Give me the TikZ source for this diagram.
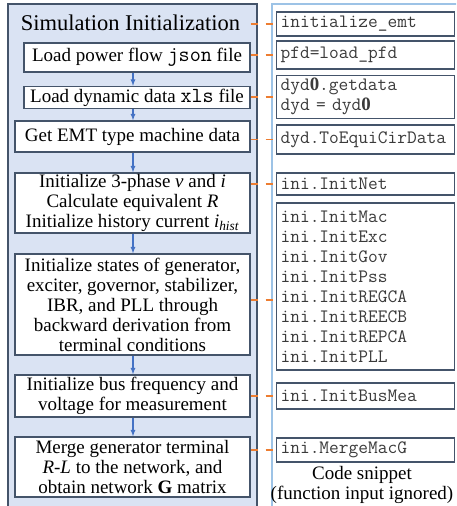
\documentclass[tikz,border=0pt]{standalone}
\usepackage{fontspec}
\setmainfont{Liberation Serif}
\usetikzlibrary{arrows,calc}

\definecolor{panelfill}{HTML}{DAE3F3}
\definecolor{panelline}{HTML}{9DC3E6}
\definecolor{boxline}{HTML}{44546A}
\definecolor{flowblue}{HTML}{4472C4}
\definecolor{linkorange}{HTML}{ED7D31}
\definecolor{codegray}{HTML}{3A3A3A}

% file formats named inside the step boxes
\newcommand{\fmt}[1]{{\ttfamily\fontsize{21.5}{20}\selectfont #1}}

\begin{document}
\begin{tikzpicture}[x=1pt,y=-1pt,>=latex,
	stepbox/.style={draw=boxline,fill=white,line width=1.3pt,align=center,
		inner sep=0pt,font=\fontsize{19}{20}\selectfont},
	codebox/.style={draw=boxline,fill=white,line width=1.1pt,anchor=west,
		align=left,text width=170pt,inner xsep=4pt,inner ysep=0pt,text=codegray,
		font=\ttfamily\fontsize{18.9}{20}\selectfont},
	flow/.style={->,flowblue,line width=1.2pt},
	link/.style={linkorange,line width=1.6pt,dash pattern=on 7pt off 8pt}]

\useasboundingbox (0,0) rectangle (456,506);
\clip (0,0) rectangle (456,506);

% the two panels
\draw[boxline,fill=panelfill,line width=1.3pt] (8,4) rectangle (257,520);
\draw[panelline,line width=2.6pt] (272,530) -- (272,4) -- (470,4);

% initialization steps
\node[font=\fontsize{22.5}{24}\selectfont,minimum width=239pt,inner sep=0pt]
	(title) at (130.5,23) {Simulation Initialization};

\node[stepbox,minimum width=226pt,minimum height=29pt] (pf) at (137,57.5)
	{Load power flow \fmt{json} file};
\node[stepbox,minimum width=226pt,minimum height=22pt] (dyn) at (137,97.5)
	{Load dynamic data \fmt{xls} file};
\node[stepbox,minimum width=235pt,minimum height=31pt] (emt) at (132.5,136.5)
	{Get EMT type machine data};
\node[stepbox,minimum width=235pt,minimum height=60pt] (net) at (132.5,203)
	{Initialize 3-phase \textit{v} and \textit{i}\\
	Calculate equivalent \textit{R}\\
	Initialize history current \textit{i}\textsubscript{\textit{hist}}};
\node[stepbox,minimum width=235pt,minimum height=101pt] (states) at (132.5,304.5)
	{Initialize states of generator,\\
	exciter, governor, stabilizer,\\
	IBR, and PLL through\\
	backward derivation from\\
	terminal conditions};
\node[stepbox,minimum width=235pt,minimum height=42pt] (bus) at (132.5,396)
	{Initialize bus frequency and\\
	voltage for measurement};
\node[stepbox,minimum width=235pt,minimum height=60pt] (merge) at (132.5,467)
	{Merge generator terminal\\
	\textit{R}-\textit{L} to the network, and\\
	obtain network \textbf{G} matrix};

\coordinate (spine) at (133,0);
\draw[flow] (pf.south -| spine) -- (dyn.north -| spine);
\draw[flow] (dyn.south -| spine) -- (emt.north -| spine);
\draw[flow] (emt.south -| spine) -- (net.north -| spine);
\draw[flow] (net.south -| spine) -- (states.north -| spine);
\draw[flow] (states.south -| spine) -- (bus.north -| spine);
\draw[flow] (bus.south -| spine) -- (merge.north -| spine);

% code snippets
\node[codebox,minimum height=24pt] (cEmt) at (276,24) {initialize\_emt};
\node[codebox,minimum height=28pt] (cPfd) at (276,55) {pfd=load\_pfd};
\node[codebox,minimum height=43pt] (cDyd) at (276,96.7)
	{dyd{\rmfamily\bfseries 0}.getdata\\dyd = dyd{\rmfamily\bfseries 0}};
\node[codebox,minimum height=29pt] (cEqui) at (276,139.5) {dyd.ToEquiCirData};
\node[codebox,minimum height=22pt] (cNet) at (276,184) {ini.InitNet};
\node[codebox,minimum height=167pt] (cInit) at (276,286.5)
	{ini.InitMac\\ini.InitExc\\ini.InitGov\\ini.InitPss\\
	ini.InitREGCA\\ini.InitREECB\\ini.InitREPCA\\ini.InitPLL};
\node[codebox,minimum height=26pt] (cBus) at (276,396) {ini.InitBusMea};
\node[codebox,minimum height=24pt] (cMerge) at (276,450) {ini.MergeMacG};

\node[align=center,inner sep=0pt,font=\fontsize{19}{20}\selectfont] (note)
	at (362,485) {Code snippet\\(function input ignored)};

% links from steps to code
\coordinate (regca) at (276,300);
\draw[link] (cEmt.west -| pf.east) -- (cEmt.west);
\draw[link] (cPfd.west -| pf.east) -- (cPfd.west);
\draw[link] (cDyd.west -| dyn.east) -- (cDyd.west);
\draw[link] (cEqui.west -| emt.east) -- (cEqui.west);
\draw[link] (cNet.west -| net.east) -- (cNet.west);
\draw[link] (regca -| states.east) -- (regca);
\draw[link] (cBus.west -| bus.east) -- (cBus.west);
\draw[link] (cMerge.west -| merge.east) -- (cMerge.west);

\end{tikzpicture}
\end{document}
